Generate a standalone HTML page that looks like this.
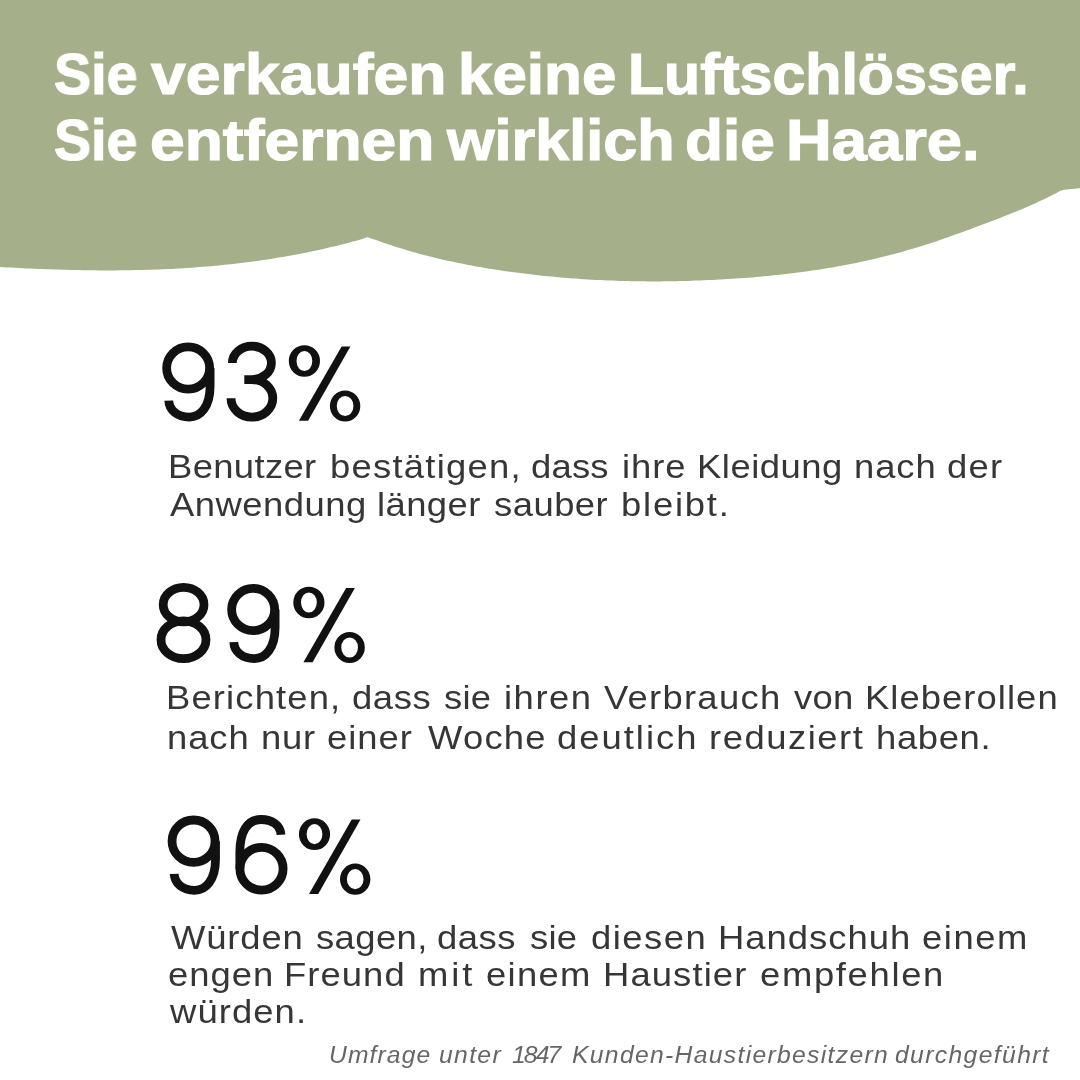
<!DOCTYPE html>
<html><head><meta charset="utf-8"><style>*{margin:0;padding:0;box-sizing:border-box}
html,body{width:1080px;height:1080px;overflow:hidden;background:#fff}
body{position:relative;font-family:"Liberation Sans",sans-serif}
.ln{position:absolute;white-space:nowrap;line-height:1;will-change:transform}
svg{position:absolute;left:0;top:0}</style></head><body>
<svg width="1080" height="1080" viewBox="0 0 1080 1080"><path d="M0 0.0 L1080 0.0 L1080 188.3 L1064 189.8 L1060 191.1 L1056 193.3 L1052 195.3 L1048 197.3 L1044 199.3 L1040 201.1 L1036 203.0 L1032 204.8 L1028 206.5 L1024 208.2 L1020 209.9 L1016 211.5 L1012 213.1 L1008 214.7 L1004 216.3 L1000 217.9 L996 219.4 L992 221.0 L988 222.5 L984 224.0 L980 225.5 L976 227.0 L972 228.5 L968 230.0 L964 231.4 L960 232.9 L956 234.3 L952 235.8 L948 237.2 L944 238.6 L940 240.0 L936 241.4 L932 242.7 L928 244.0 L924 245.3 L920 246.6 L916 247.8 L912 249.0 L908 250.1 L904 251.3 L900 252.4 L896 253.5 L892 254.5 L888 255.5 L884 256.5 L880 257.5 L876 258.5 L872 259.4 L868 260.3 L864 261.2 L860 262.0 L856 262.9 L852 263.7 L848 264.5 L844 265.2 L840 266.0 L836 266.7 L832 267.4 L828 268.1 L824 268.7 L820 269.4 L816 270.0 L812 270.6 L808 271.2 L804 271.7 L800 272.3 L796 272.8 L792 273.3 L788 273.8 L784 274.2 L780 274.7 L776 275.1 L772 275.5 L768 275.9 L764 276.3 L760 276.7 L756 277.0 L752 277.4 L748 277.7 L744 278.0 L740 278.3 L736 278.6 L732 278.8 L728 279.1 L724 279.3 L720 279.5 L716 279.7 L712 279.9 L708 280.1 L704 280.3 L700 280.5 L696 280.6 L692 280.8 L688 280.9 L684 281.0 L680 281.1 L676 281.2 L672 281.2 L668 281.3 L664 281.3 L660 281.4 L656 281.4 L652 281.4 L648 281.4 L644 281.3 L640 281.3 L636 281.2 L632 281.2 L628 281.1 L624 281.0 L620 280.9 L616 280.7 L612 280.6 L608 280.4 L604 280.3 L600 280.1 L596 279.9 L592 279.7 L588 279.4 L584 279.2 L580 278.9 L576 278.6 L572 278.4 L568 278.0 L564 277.7 L560 277.4 L556 277.0 L552 276.6 L548 276.3 L544 275.9 L540 275.4 L536 275.0 L532 274.5 L528 274.1 L524 273.6 L520 273.1 L516 272.6 L512 272.0 L508 271.5 L504 270.9 L500 270.3 L496 269.7 L492 269.1 L488 268.4 L484 267.8 L480 267.1 L476 266.4 L472 265.6 L468 264.9 L464 264.1 L460 263.3 L456 262.5 L452 261.6 L448 260.8 L444 259.9 L440 258.9 L436 258.0 L432 257.0 L428 256.0 L424 255.0 L420 253.9 L416 252.8 L412 251.7 L408 250.5 L404 249.3 L400 248.1 L396 246.9 L392 245.6 L388 244.3 L384 242.9 L380 241.5 L376 240.1 L372 238.7 L368 237.2 L367 237.2 L363 238.8 L359 239.9 L355 241.0 L351 242.1 L347 243.2 L343 244.2 L339 245.2 L335 246.2 L331 247.1 L327 248.1 L323 249.0 L319 249.9 L315 250.8 L311 251.6 L307 252.4 L303 253.2 L299 254.0 L295 254.8 L291 255.5 L287 256.2 L283 256.9 L279 257.6 L275 258.2 L271 258.9 L267 259.5 L263 260.1 L259 260.7 L255 261.2 L251 261.8 L247 262.3 L243 262.8 L239 263.3 L235 263.7 L231 264.2 L227 264.6 L223 265.0 L219 265.4 L215 265.8 L211 266.2 L207 266.5 L203 266.8 L199 267.1 L195 267.4 L191 267.7 L187 268.0 L183 268.2 L179 268.5 L175 268.7 L171 268.9 L167 269.1 L163 269.3 L159 269.4 L155 269.6 L151 269.7 L147 269.8 L143 270.0 L139 270.0 L135 270.1 L131 270.2 L127 270.3 L123 270.3 L119 270.3 L115 270.4 L111 270.4 L107 270.4 L103 270.4 L99 270.4 L95 270.3 L91 270.3 L87 270.2 L83 270.2 L79 270.1 L75 270.0 L71 269.9 L67 269.8 L63 269.7 L59 269.6 L55 269.5 L51 269.3 L47 269.2 L43 269.0 L39 268.9 L35 268.7 L31 268.6 L27 268.4 L23 268.2 L19 268.0 L15 267.8 L11 267.6 L7 267.4 L3 267.2 L0 267.0Z" fill="#a5b08b"/></svg>
<div class="ln" style="left:54.00px;top:46.66px;font-size:56.50px;font-weight:bold;font-style:normal;color:#fff;letter-spacing:0.000px;-webkit-text-stroke:1.2px #fff;transform:scaleX(0.9834);transform-origin:0 0">Sie</div>
<div class="ln" style="left:150.70px;top:46.66px;font-size:56.50px;font-weight:bold;font-style:normal;color:#fff;letter-spacing:0.000px;-webkit-text-stroke:1.2px #fff;transform:scaleX(1.1069);transform-origin:0 0">verkaufen</div>
<div class="ln" style="left:457.80px;top:46.66px;font-size:56.50px;font-weight:bold;font-style:normal;color:#fff;letter-spacing:0.000px;-webkit-text-stroke:1.2px #fff;transform:scaleX(1.0959);transform-origin:0 0">keine</div>
<div class="ln" style="left:627.70px;top:46.66px;font-size:56.50px;font-weight:bold;font-style:normal;color:#fff;letter-spacing:0.000px;-webkit-text-stroke:1.2px #fff;transform:scaleX(1.0462);transform-origin:0 0">Luftschlösser.</div>
<div class="ln" style="left:54.00px;top:113.16px;font-size:56.50px;font-weight:bold;font-style:normal;color:#fff;letter-spacing:0.000px;-webkit-text-stroke:1.2px #fff;transform:scaleX(0.9815);transform-origin:0 0">Sie</div>
<div class="ln" style="left:150.30px;top:113.16px;font-size:56.50px;font-weight:bold;font-style:normal;color:#fff;letter-spacing:0.000px;-webkit-text-stroke:1.2px #fff;transform:scaleX(1.1048);transform-origin:0 0">entfernen</div>
<div class="ln" style="left:446.60px;top:113.16px;font-size:56.50px;font-weight:bold;font-style:normal;color:#fff;letter-spacing:0.000px;-webkit-text-stroke:1.2px #fff;transform:scaleX(1.0817);transform-origin:0 0">wirklich</div>
<div class="ln" style="left:685.40px;top:113.16px;font-size:56.50px;font-weight:bold;font-style:normal;color:#fff;letter-spacing:0.000px;-webkit-text-stroke:1.2px #fff;transform:scaleX(1.0993);transform-origin:0 0">die</div>
<div class="ln" style="left:786.00px;top:113.16px;font-size:56.50px;font-weight:bold;font-style:normal;color:#fff;letter-spacing:0.000px;-webkit-text-stroke:1.2px #fff;transform:scaleX(1.1205);transform-origin:0 0">Haare.</div>
<div class="ln" style="left:168.20px;top:451.18px;font-size:32.50px;font-weight:normal;font-style:normal;color:#363636;letter-spacing:0.323px;transform:scaleX(1.1200);transform-origin:0 0">Benutzer</div>
<div class="ln" style="left:330.10px;top:451.18px;font-size:32.50px;font-weight:normal;font-style:normal;color:#363636;letter-spacing:1.124px;transform:scaleX(1.1200);transform-origin:0 0">bestätigen,</div>
<div class="ln" style="left:531.00px;top:451.18px;font-size:32.50px;font-weight:normal;font-style:normal;color:#363636;letter-spacing:0.197px;transform:scaleX(1.1200);transform-origin:0 0">dass</div>
<div class="ln" style="left:621.80px;top:451.18px;font-size:32.50px;font-weight:normal;font-style:normal;color:#363636;letter-spacing:0.816px;transform:scaleX(1.1200);transform-origin:0 0">ihre</div>
<div class="ln" style="left:697.20px;top:451.18px;font-size:32.50px;font-weight:normal;font-style:normal;color:#363636;letter-spacing:0.454px;transform:scaleX(1.1200);transform-origin:0 0">Kleidung</div>
<div class="ln" style="left:854.20px;top:451.18px;font-size:32.50px;font-weight:normal;font-style:normal;color:#363636;letter-spacing:0.836px;transform:scaleX(1.1200);transform-origin:0 0">nach</div>
<div class="ln" style="left:946.90px;top:451.18px;font-size:32.50px;font-weight:normal;font-style:normal;color:#363636;letter-spacing:1.143px;transform:scaleX(1.1200);transform-origin:0 0">der</div>
<div class="ln" style="left:170.20px;top:489.18px;font-size:32.50px;font-weight:normal;font-style:normal;color:#363636;letter-spacing:0.438px;transform:scaleX(1.1200);transform-origin:0 0">Anwendung</div>
<div class="ln" style="left:377.20px;top:489.18px;font-size:32.50px;font-weight:normal;font-style:normal;color:#363636;letter-spacing:0.375px;transform:scaleX(1.1200);transform-origin:0 0">länger</div>
<div class="ln" style="left:494.30px;top:489.18px;font-size:32.50px;font-weight:normal;font-style:normal;color:#363636;letter-spacing:0.433px;transform:scaleX(1.1200);transform-origin:0 0">sauber</div>
<div class="ln" style="left:620.80px;top:489.18px;font-size:32.50px;font-weight:normal;font-style:normal;color:#363636;letter-spacing:1.589px;transform:scaleX(1.1200);transform-origin:0 0">bleibt.</div>
<div class="ln" style="left:166.20px;top:682.18px;font-size:32.50px;font-weight:normal;font-style:normal;color:#363636;letter-spacing:1.019px;transform:scaleX(1.1200);transform-origin:0 0">Berichten,</div>
<div class="ln" style="left:351.50px;top:682.18px;font-size:32.50px;font-weight:normal;font-style:normal;color:#363636;letter-spacing:0.512px;transform:scaleX(1.1200);transform-origin:0 0">dass</div>
<div class="ln" style="left:444.40px;top:682.18px;font-size:32.50px;font-weight:normal;font-style:normal;color:#363636;letter-spacing:0.169px;transform:scaleX(1.1200);transform-origin:0 0">sie</div>
<div class="ln" style="left:503.50px;top:682.18px;font-size:32.50px;font-weight:normal;font-style:normal;color:#363636;letter-spacing:1.373px;transform:scaleX(1.1200);transform-origin:0 0">ihren</div>
<div class="ln" style="left:604.40px;top:682.18px;font-size:32.50px;font-weight:normal;font-style:normal;color:#363636;letter-spacing:1.137px;transform:scaleX(1.1200);transform-origin:0 0">Verbrauch</div>
<div class="ln" style="left:793.70px;top:682.18px;font-size:32.50px;font-weight:normal;font-style:normal;color:#363636;letter-spacing:0.283px;transform:scaleX(1.1200);transform-origin:0 0">von</div>
<div class="ln" style="left:864.50px;top:682.18px;font-size:32.50px;font-weight:normal;font-style:normal;color:#363636;letter-spacing:0.939px;transform:scaleX(1.1200);transform-origin:0 0">Kleberollen</div>
<div class="ln" style="left:167.20px;top:721.98px;font-size:32.50px;font-weight:normal;font-style:normal;color:#363636;letter-spacing:0.836px;transform:scaleX(1.1200);transform-origin:0 0">nach</div>
<div class="ln" style="left:260.90px;top:721.98px;font-size:32.50px;font-weight:normal;font-style:normal;color:#363636;letter-spacing:0.715px;transform:scaleX(1.1200);transform-origin:0 0">nur</div>
<div class="ln" style="left:327.00px;top:721.98px;font-size:32.50px;font-weight:normal;font-style:normal;color:#363636;letter-spacing:0.886px;transform:scaleX(1.1200);transform-origin:0 0">einer</div>
<div class="ln" style="left:427.70px;top:721.98px;font-size:32.50px;font-weight:normal;font-style:normal;color:#363636;letter-spacing:1.093px;transform:scaleX(1.1200);transform-origin:0 0">Woche</div>
<div class="ln" style="left:557.40px;top:721.98px;font-size:32.50px;font-weight:normal;font-style:normal;color:#363636;letter-spacing:1.787px;transform:scaleX(1.1200);transform-origin:0 0">deutlich</div>
<div class="ln" style="left:709.40px;top:721.98px;font-size:32.50px;font-weight:normal;font-style:normal;color:#363636;letter-spacing:1.358px;transform:scaleX(1.1200);transform-origin:0 0">reduziert</div>
<div class="ln" style="left:875.80px;top:721.98px;font-size:32.50px;font-weight:normal;font-style:normal;color:#363636;letter-spacing:0.569px;transform:scaleX(1.1200);transform-origin:0 0">haben.</div>
<div class="ln" style="left:171.20px;top:921.88px;font-size:32.50px;font-weight:normal;font-style:normal;color:#363636;letter-spacing:0.776px;transform:scaleX(1.1200);transform-origin:0 0">Würden</div>
<div class="ln" style="left:315.90px;top:921.88px;font-size:32.50px;font-weight:normal;font-style:normal;color:#363636;letter-spacing:0.377px;transform:scaleX(1.1200);transform-origin:0 0">sagen,</div>
<div class="ln" style="left:437.30px;top:921.88px;font-size:32.50px;font-weight:normal;font-style:normal;color:#363636;letter-spacing:0.498px;transform:scaleX(1.1200);transform-origin:0 0">dass</div>
<div class="ln" style="left:529.90px;top:921.88px;font-size:32.50px;font-weight:normal;font-style:normal;color:#363636;letter-spacing:0.194px;transform:scaleX(1.1200);transform-origin:0 0">sie</div>
<div class="ln" style="left:591.20px;top:921.88px;font-size:32.50px;font-weight:normal;font-style:normal;color:#363636;letter-spacing:1.316px;transform:scaleX(1.1200);transform-origin:0 0">diesen</div>
<div class="ln" style="left:717.60px;top:921.88px;font-size:32.50px;font-weight:normal;font-style:normal;color:#363636;letter-spacing:0.907px;transform:scaleX(1.1200);transform-origin:0 0">Handschuh</div>
<div class="ln" style="left:921.80px;top:921.88px;font-size:32.50px;font-weight:normal;font-style:normal;color:#363636;letter-spacing:1.378px;transform:scaleX(1.1200);transform-origin:0 0">einem</div>
<div class="ln" style="left:168.20px;top:958.98px;font-size:32.50px;font-weight:normal;font-style:normal;color:#363636;letter-spacing:0.899px;transform:scaleX(1.1200);transform-origin:0 0">engen</div>
<div class="ln" style="left:284.30px;top:958.98px;font-size:32.50px;font-weight:normal;font-style:normal;color:#363636;letter-spacing:0.951px;transform:scaleX(1.1200);transform-origin:0 0">Freund</div>
<div class="ln" style="left:417.90px;top:958.98px;font-size:32.50px;font-weight:normal;font-style:normal;color:#363636;letter-spacing:2.573px;transform:scaleX(1.1200);transform-origin:0 0">mit</div>
<div class="ln" style="left:486.10px;top:958.98px;font-size:32.50px;font-weight:normal;font-style:normal;color:#363636;letter-spacing:1.145px;transform:scaleX(1.1200);transform-origin:0 0">einem</div>
<div class="ln" style="left:602.50px;top:958.98px;font-size:32.50px;font-weight:normal;font-style:normal;color:#363636;letter-spacing:0.994px;transform:scaleX(1.1200);transform-origin:0 0">Haustier</div>
<div class="ln" style="left:760.30px;top:958.98px;font-size:32.50px;font-weight:normal;font-style:normal;color:#363636;letter-spacing:1.486px;transform:scaleX(1.1200);transform-origin:0 0">empfehlen</div>
<div class="ln" style="left:170.00px;top:995.78px;font-size:32.50px;font-weight:normal;font-style:normal;color:#363636;letter-spacing:0.975px;transform:scaleX(1.1200);transform-origin:0 0">würden.</div>
<div class="ln" style="left:329.30px;top:1043.09px;font-size:24.70px;font-weight:normal;font-style:italic;color:#666;letter-spacing:1.100px">Umfrage</div>
<div class="ln" style="left:439.00px;top:1043.09px;font-size:24.70px;font-weight:normal;font-style:italic;color:#666;letter-spacing:1.350px">unter</div>
<div class="ln" style="left:511.50px;top:1043.09px;font-size:24.70px;font-weight:normal;font-style:italic;color:#666;letter-spacing:-1.900px">1847</div>
<div class="ln" style="left:571.50px;top:1043.09px;font-size:24.70px;font-weight:normal;font-style:italic;color:#666;letter-spacing:1.317px">Kunden-Haustierbesitzern</div>
<div class="ln" style="left:895.30px;top:1043.09px;font-size:24.70px;font-weight:normal;font-style:italic;color:#666;letter-spacing:1.373px">durchgeführt</div>
<svg width="1080" height="1080" viewBox="0 0 1080 1080" style="position:absolute;left:0;top:0">
<g transform="translate(162.30 421.00)" fill="none" stroke="#111" stroke-width="8.8"><ellipse cx="25.85" cy="-53" rx="21.5" ry="21.2"/><path d="M47.8 -53 L47.8 -35 C47.8 -14 38 -3.9 27 -3.9 C15 -3.9 6.8 -11 6.5 -20.3"/></g>
<g transform="translate(226.60 421.00)" fill="none" stroke="#111" stroke-width="8.8"><path d="M5.8 -58.1 A19.5 16.7 0 0 1 44.8 -58.1 A19.5 16.7 0 0 1 25.3 -41.4 L17.7 -41.4 M25.3 -41.4 A20.9 18.75 0 0 1 46.2 -22.65 A20.9 18.75 0 0 1 4.4 -22.65"/></g>
<g transform="translate(288.80 421.60)" fill="#111"><path stroke="none" fill-rule="evenodd" d="M0.00 -60.60 a15.60 15.85 0 1 0 31.20 0 a15.60 15.85 0 1 0 -31.20 0 Z M7.70 -60.60 a7.90 10.10 0 1 0 15.80 0 a7.90 10.10 0 1 0 -15.80 0 Z M41.10 -15.60 a15.20 15.60 0 1 0 30.40 0 a15.20 15.60 0 1 0 -30.40 0 Z M47.95 -15.60 a8.35 10.10 0 1 0 16.70 0 a8.35 10.10 0 1 0 -16.70 0 Z"/><path stroke="none" d="M52.8 -75.2 L61.6 -75.2 L19.3 -0.8 L10.1 -0.8 Z"/></g>
<g transform="translate(156.50 662.50)" fill="none" stroke="#111" stroke-width="8.8"><ellipse cx="27.1" cy="-57.85" rx="20.4" ry="17.25"/><ellipse cx="27" cy="-22.7" rx="22.5" ry="18.9"/></g>
<g transform="translate(227.30 662.50)" fill="none" stroke="#111" stroke-width="8.8"><ellipse cx="25.85" cy="-53" rx="21.5" ry="21.2"/><path d="M47.8 -53 L47.8 -35 C47.8 -14 38 -3.9 27 -3.9 C15 -3.9 6.8 -11 6.5 -20.3"/></g>
<g transform="translate(293.30 663.10)" fill="#111"><path stroke="none" fill-rule="evenodd" d="M0.00 -60.60 a15.60 15.85 0 1 0 31.20 0 a15.60 15.85 0 1 0 -31.20 0 Z M7.70 -60.60 a7.90 10.10 0 1 0 15.80 0 a7.90 10.10 0 1 0 -15.80 0 Z M41.10 -15.60 a15.20 15.60 0 1 0 30.40 0 a15.20 15.60 0 1 0 -30.40 0 Z M47.95 -15.60 a8.35 10.10 0 1 0 16.70 0 a8.35 10.10 0 1 0 -16.70 0 Z"/><path stroke="none" d="M52.8 -75.2 L61.6 -75.2 L19.3 -0.8 L10.1 -0.8 Z"/></g>
<g transform="translate(167.70 894.20)" fill="none" stroke="#111" stroke-width="8.8"><ellipse cx="25.85" cy="-53" rx="21.5" ry="21.2"/><path d="M47.8 -53 L47.8 -35 C47.8 -14 38 -3.9 27 -3.9 C15 -3.9 6.8 -11 6.5 -20.3"/></g>
<g transform="translate(235.30 894.20)" fill="none" stroke="#111" stroke-width="8.8"><ellipse cx="26.2" cy="-25.5" rx="21.6" ry="21.4"/><path d="M45.7 -59.4 C45.2 -69.1 36.7 -74.7 25.7 -74.7 C11.7 -74.7 4.55 -62 4.55 -42 L4.55 -25.5"/></g>
<g transform="translate(298.90 894.80)" fill="#111"><path stroke="none" fill-rule="evenodd" d="M0.00 -60.60 a15.60 15.85 0 1 0 31.20 0 a15.60 15.85 0 1 0 -31.20 0 Z M7.70 -60.60 a7.90 10.10 0 1 0 15.80 0 a7.90 10.10 0 1 0 -15.80 0 Z M41.10 -15.60 a15.20 15.60 0 1 0 30.40 0 a15.20 15.60 0 1 0 -30.40 0 Z M47.95 -15.60 a8.35 10.10 0 1 0 16.70 0 a8.35 10.10 0 1 0 -16.70 0 Z"/><path stroke="none" d="M52.8 -75.2 L61.6 -75.2 L19.3 -0.8 L10.1 -0.8 Z"/></g>
</svg>
</body></html>
